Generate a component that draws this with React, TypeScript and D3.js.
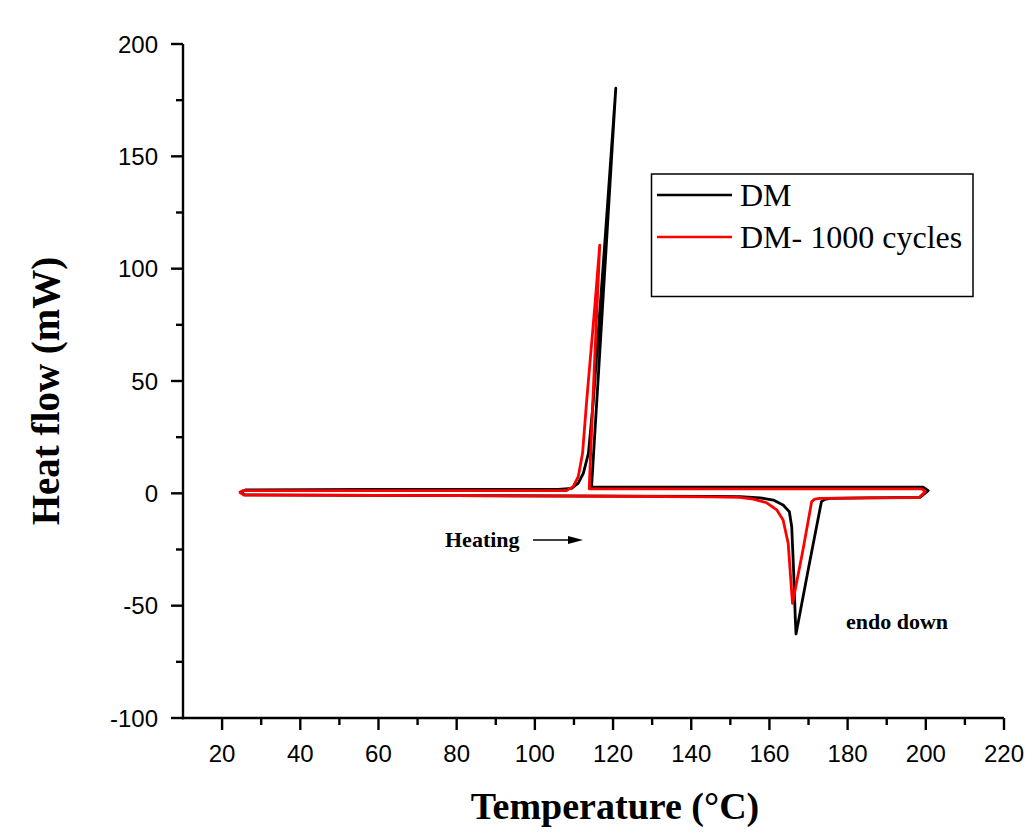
import React from "react";
import * as d3 from "d3";

// DSC heating/cooling loops, [temperature °C, heat flow mW], traced in path order
const dmHeating: [number, number][] = [
  [24.8, 0.3], [25.8, -0.7], [40, -0.8], [80, -1.0], [120, -1.2], [145, -1.4],
  [152.5, -1.5], [157.6, -2.0], [161, -3.0], [163.5, -5.2], [165.1, -8.2],
  [165.7, -14.9], [166.2, -35], [166.6, -55], [166.8, -62.6], [170, -33.2],
  [173.3, -3.7], [174.2, -2.7], [175.5, -2.2], [185, -2.0], [198.5, -1.8], [200.6, 1.2],
];
const dmCooling: [number, number][] = [
  [199.3, 2.8], [180, 2.8], [150, 2.8], [114.5, 2.8], [118.4, 114], [120.7, 180.3],
  [118.0, 114], [114.9, 40], [113.7, 17.8], [112.4, 8.9], [111.1, 4.5], [109.4, 2.2],
  [106, 1.7], [60, 1.7], [26, 1.5], [25, 0.6],
];
const dm1000Heating: [number, number][] = [
  [24.6, 0.3], [25.6, -0.8], [40, -0.8], [80, -1.0], [120, -1.3], [145, -1.6],
  [152.5, -1.8], [155.9, -2.6], [159.3, -4.2], [161.9, -7.4], [163.5, -11.9],
  [164.8, -22.3], [165.4, -37], [165.9, -49], [168.6, -25], [170.8, -3.7],
  [171.6, -2.6], [172.9, -2.2], [185, -2.0], [198.3, -1.9], [199.9, 0.8],
];
const dm1000Cooling: [number, number][] = [
  [199.0, 2.0], [170, 2.0], [113.9, 2.0], [114.8, 40], [116.6, 110.5],
  [115.4, 84.6], [113.2, 40], [112.2, 17.8], [111.1, 7.4], [109.8, 3.0],
  [108.1, 1.2], [60, 1.2], [25.4, 1.2], [24.6, 0.6],
];

const seriesNames = ["DM", "DM- 1000 cycles"];
const seriesColors = ["#000000", "#ff0000"];

const xTickValues = [20, 40, 60, 80, 100, 120, 140, 160, 180, 200, 220];
const xMinorValues = [30, 50, 70, 90, 110, 130, 150, 170, 190, 210];
const yTickValues = [-100, -50, 0, 50, 100, 150, 200];
const yMinorValues = [-75, -25, 25, 75, 125, 175];

const W = 1029;
const H = 835;
const left = 183;
const right = 1004;
const top = 44;
const bottom = 718;

const serif = "'Liberation Serif', 'Times New Roman', serif";
const sans = "'Liberation Sans', Arial, sans-serif";

export default function App() {
  const x = d3.scaleLinear().domain([10, 220]).range([left, right]);
  const y = d3.scaleLinear().domain([-100, 200]).range([bottom, top]);
  const line = d3
    .line<[number, number]>()
    .x((d) => x(d[0]))
    .y((d) => y(d[1]))
    .curve(d3.curveLinear);

  const paths = [
    dmHeating.concat(dmCooling),
    dm1000Heating.concat(dm1000Cooling),
  ];

  const major = 12;
  const minor = 7;

  return (
    <svg
      width={W}
      height={H}
      style={{ position: "absolute", left: 0, top: 0, background: "#fff" }}
    >
      <rect x={0} y={0} width={W} height={H} fill="#fff" />

      {/* curves */}
      {paths.map((p, i) => (
        <path
          key={i}
          d={line(p) || ""}
          fill="none"
          stroke={seriesColors[i]}
          strokeWidth={2.8}
          strokeLinejoin="round"
          strokeLinecap="round"
        />
      ))}

      {/* axes */}
      <g stroke="#000" strokeWidth={2.4} fill="none">
        <line x1={left} y1={top} x2={left} y2={bottom + 1.2} />
        <line x1={left - 1.2} y1={bottom} x2={right} y2={bottom} />
        {yTickValues.map((v) => (
          <line key={"ym" + v} x1={left - major} x2={left} y1={y(v)} y2={y(v)} />
        ))}
        {yMinorValues.map((v) => (
          <line key={"yn" + v} x1={left - minor} x2={left} y1={y(v)} y2={y(v)} />
        ))}
        {xTickValues.map((v) => (
          <line key={"xm" + v} x1={x(v)} x2={x(v)} y1={bottom} y2={bottom + major} />
        ))}
        {xMinorValues.map((v) => (
          <line key={"xn" + v} x1={x(v)} x2={x(v)} y1={bottom} y2={bottom + minor} />
        ))}
      </g>

      <g fontFamily={sans} fontSize={24} fill="#000">
        {yTickValues.map((v) => (
          <text key={"yl" + v} x={158} y={y(v) + 8.6} textAnchor="end">
            {v}
          </text>
        ))}
        {xTickValues.map((v) => (
          <text key={"xl" + v} x={x(v)} y={762} textAnchor="middle">
            {v}
          </text>
        ))}
      </g>

      {/* axis titles */}
      <text
        x={615}
        y={819}
        textAnchor="middle"
        fontFamily={serif}
        fontWeight="bold"
        fontSize={38}
      >
        Temperature (°C)
      </text>
      <text
        transform="translate(59,391) rotate(-90)"
        textAnchor="middle"
        fontFamily={serif}
        fontWeight="bold"
        fontSize={39}
      >
        Heat flow (mW)
      </text>

      {/* annotations */}
      <text x={445} y={547} fontFamily={serif} fontWeight="bold" fontSize={22}>
        Heating
      </text>
      <line x1={533} y1={540} x2={570} y2={540} stroke="#000" strokeWidth={1.5} />
      <path d="M568,536 L583,540 L568,544 Z" fill="#000" />
      <text x={846} y={629} fontFamily={serif} fontWeight="bold" fontSize={22}>
        endo down
      </text>

      {/* legend */}
      <rect x={651.5} y={174} width={321.5} height={122.5} fill="#fff" stroke="#000" strokeWidth={1.5} />
      {seriesNames.map((name, i) => (
        <g key={name}>
          <line
            x1={657}
            x2={732}
            y1={195 + i * 42}
            y2={195 + i * 42}
            stroke={seriesColors[i]}
            strokeWidth={2.5}
          />
          <text x={740} y={206 + i * 42} fontFamily={serif} fontSize={32}>
            {name}
          </text>
        </g>
      ))}
    </svg>
  );
}
